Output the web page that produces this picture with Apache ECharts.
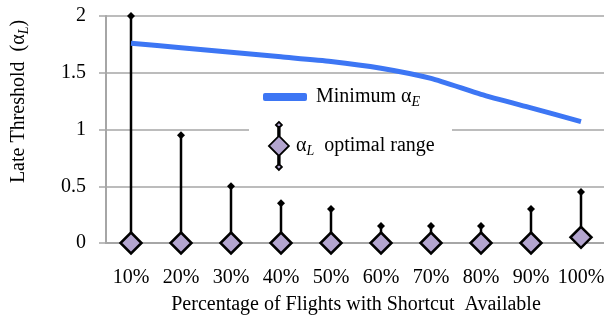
<!DOCTYPE html>
<html>
<head>
<meta charset="utf-8">
<script src="https://cdn.jsdelivr.net/npm/echarts@6/dist/echarts.min.js"></script>
<style>
  html, body { margin: 0; padding: 0; background: #fff; }
  #main { width: 604px; height: 315px; }
</style>
</head>
<body>
<div id="main"></div>
<script>
// data
var categories = ['10%', '20%', '30%', '40%', '50%', '60%', '70%', '80%', '90%', '100%'];
var minAlphaE = [1.76, 1.72, 1.68, 1.64, 1.60, 1.54, 1.45, 1.31, 1.19, 1.07];
var rangeLow = [0, 0, 0, 0, 0, 0, 0, 0, 0, 0.05];
var rangeHigh = [2.0, 0.95, 0.5, 0.35, 0.30, 0.15, 0.15, 0.15, 0.30, 0.45];
var yTicks = [0, 0.5, 1, 1.5, 2];

var serif = 'Liberation Serif';
var lilac = '#b3a5cf';

var whiskers = categories.map(function (c, i) { return [i, rangeLow[i], rangeHigh[i]]; });
var lows = categories.map(function (c, i) { return [i, rangeLow[i]]; });

var rangeIcon = 'path://M10 0 L13 3 L10 6 L7 3 Z M9.2 5 L10.8 5 L10.8 14.5 L9.2 14.5 Z ' +
    'M10 14 L20 24 L10 34 L0 24 Z M9.2 33.5 L10.8 33.5 L10.8 43 L9.2 43 Z M10 42 L13 45 L10 48 L7 45 Z';

var subRich = {
    t: { fontFamily: serif, fontSize: 20, color: '#000' },
    s: { fontFamily: serif, fontSize: 14, fontStyle: 'italic', color: '#000', padding: [10, 0, 0, 0] }
};

var myChart = echarts.init(document.getElementById('main'));
option = {
    animation: false,
    grid: { left: 106, right: -2, top: 16, bottom: 72, outerBoundsMode: 'none' },
    graphic: [
        {
            type: 'rect', z: 3,
            shape: { x: 249, y: 112, width: 203, height: 45 },
            style: { fill: '#fff' }
        }
    ],
    legend: [
        {
            data: ['Minimum αE'],
            left: 258, top: 82,
            itemWidth: 44, itemHeight: 8,
            icon: 'roundRect',
            formatter: function () { return '{t|Minimum α}{s|E}'; },
            textStyle: { padding: [0, 0, 0, 4], rich: subRich }
        },
        {
            data: [{ name: 'αL optimal range', icon: rangeIcon }],
            left: 263, top: 116,
            itemWidth: 20, itemHeight: 48,
            formatter: function () { return '{t|α}{s|L}{t|  optimal range}'; },
            itemStyle: { color: lilac, borderColor: '#000', borderWidth: 1.8 },
            textStyle: { padding: [0, 0, 0, 2], rich: subRich }
        }
    ],
    xAxis: {
        type: 'category',
        data: categories,
        name: 'Percentage of Flights with Shortcut  Available',
        nameLocation: 'middle',
        nameGap: 52,
        nameTextStyle: { fontFamily: serif, fontSize: 20, color: '#000' },
        axisLine: { lineStyle: { color: '#a6a6a6', width: 2 } },
        axisTick: { length: 4, lineStyle: { color: '#a6a6a6', width: 1.5 } },
        axisLabel: { interval: 0, fontFamily: serif, fontSize: 20, color: '#000', margin: 25 }
    },
    yAxis: {
        type: 'value',
        min: yTicks[0], max: yTicks[yTicks.length - 1], interval: 0.5,
        name: '{t|Late Threshold  (α}{s|L}{t|)}',
        nameLocation: 'middle',
        nameGap: 75,
        nameTextStyle: {
            padding: [0, 0, 0, 56],
            rich: {
                t: { fontFamily: serif, fontSize: 20, color: '#000' },
                s: { fontFamily: serif, fontSize: 14, fontStyle: 'italic', color: '#000', padding: [10, 0, 0, 0] }
            }
        },
        axisLine: { show: true, lineStyle: { color: '#a6a6a6', width: 2 } },
        axisTick: { show: true, length: 7, lineStyle: { color: '#a6a6a6', width: 1.5 } },
        axisLabel: { fontFamily: serif, fontSize: 20, color: '#000', margin: 20 },
        splitLine: { lineStyle: { color: '#a6a6a6', width: 1.5 } }
    },
    series: [
        {
            type: 'custom',
            z: 2,
            data: whiskers,
            encode: { x: 0, y: [1, 2] },
            renderItem: function (params, api) {
                var lo = api.coord([api.value(0), api.value(1)]);
                var hi = api.coord([api.value(0), api.value(2)]);
                return {
                    type: 'group',
                    children: [
                        { type: 'line', shape: { x1: lo[0], y1: lo[1], x2: hi[0], y2: hi[1] },
                          style: { stroke: '#000', lineWidth: 2.5 } },
                        { type: 'polygon', shape: { points: [[hi[0], hi[1] - 4], [hi[0] + 4, hi[1]], [hi[0], hi[1] + 4], [hi[0] - 4, hi[1]]] },
                          style: { fill: '#000' } }
                    ]
                };
            }
        },
        {
            name: 'Minimum αE',
            type: 'line',
            z: 4,
            data: minAlphaE,
            showSymbol: false,
            smooth: 0.2,
            itemStyle: { color: '#3d76f4' },
            lineStyle: { color: '#3d76f4', width: 5 }
        },
        {
            name: 'αL optimal range',
            type: 'scatter',
            z: 5,
            data: lows,
            symbol: 'diamond',
            symbolSize: 21,
            itemStyle: { color: lilac, borderColor: '#000', borderWidth: 2.5, opacity: 1 }
        }
    ]
};
myChart.setOption(option);
</script>
</body>
</html>
